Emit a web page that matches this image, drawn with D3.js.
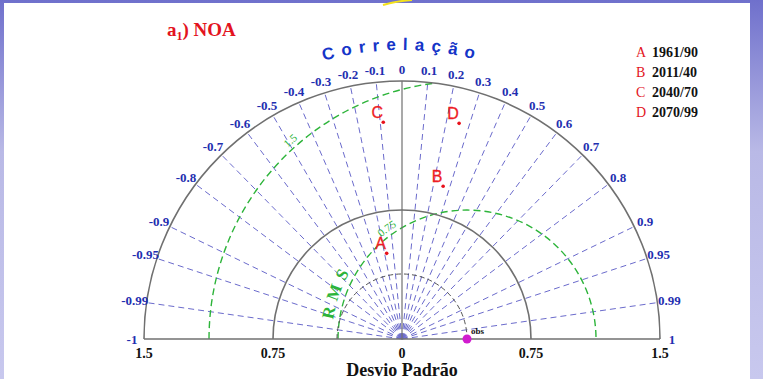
<!DOCTYPE html>
<html><head><meta charset="utf-8">
<script src="https://cdn.jsdelivr.net/npm/d3@7"></script>
<style>
html,body{margin:0;padding:0;background:#fff;}
svg{display:block;}
</style></head>
<body>
<svg id="chart" width="763" height="379"></svg>
<script>
// ---- data ----
const corrTicks = [-1, -0.99, -0.95, -0.9, -0.8, -0.7, -0.6, -0.5, -0.4, -0.3, -0.2, -0.1, 0, 0.1, 0.2, 0.3, 0.4, 0.5, 0.6, 0.7, 0.8, 0.9, 0.95, 0.99, 1];
const corrTickLabels = ["-1", "-0.99", "-0.95", "-0.9", "-0.8", "-0.7", "-0.6", "-0.5", "-0.4", "-0.3", "-0.2", "-0.1", "0", "0.1", "0.2", "0.3", "0.4", "0.5", "0.6", "0.7", "0.8", "0.9", "0.95", "0.99", "1"];
const stdTickPos = [-1.5, -0.75, 0, 0.75, 1.5];
const stdTickLabels = ["1.5", "0.75", "0", "0.75", "1.5"];
const stdArcs = [0.75, 1.5];
const rmsLevels = [0.75, 1.5];
const rmsLabels = ["0.75", "1.5"];
const obsStd = 0.378;
const modelLetters = ["A", "B", "C", "D"];
const modelPeriods = ["1961/90", "2011/40", "2040/70", "2070/99"];
const modelStd = [0.506, 0.92, 1.265, 1.297];
const modelCorr = [-0.176, 0.26, -0.086, 0.256];

// ---- layout ----
const W = 763, H = 379;
const cx = 402, cy = 339;
const maxStd = 1.5;
const r = d3.scaleLinear().domain([0, maxStd]).range([0, 258]);
const svg = d3.select("#chart");

// background frame
const defs = svg.append("defs");
const grad = defs.append("linearGradient").attr("id","bg").attr("x1",0).attr("y1",0).attr("x2",0).attr("y2",1);
grad.append("stop").attr("offset","0%").attr("stop-color","#6f70cc");
grad.append("stop").attr("offset","40%").attr("stop-color","#b9b9e6");
grad.append("stop").attr("offset","100%").attr("stop-color","#c8c8ee");
svg.append("rect").attr("width",W).attr("height",H).attr("fill","url(#bg)");
svg.append("rect").attr("x",4).attr("y",3).attr("width",746).attr("height",H-3).attr("fill","#fff");
svg.append("path").attr("d","M383,5 Q396,1 412,0").attr("fill","none").attr("stroke","#f4e21a").attr("stroke-width",2);

const polar = (s, c) => {
  const a = Math.acos(c);
  return [cx + r(s) * Math.cos(a), cy - r(s) * Math.sin(a)];
};

const g = svg.append("g");

// clip region: outer semicircle
defs.append("clipPath").attr("id","semi").append("path")
  .attr("d", `M${cx - r(maxStd)},${cy} A${r(maxStd)},${r(maxStd)} 0 0 1 ${cx + r(maxStd)},${cy} Z`);

// correlation dashed spokes
const spokeTicks = corrTicks.filter(c => Math.abs(c) < 1 && c !== 0);
g.selectAll("line.spoke").data(spokeTicks).enter().append("line")
  .attr("x1", cx).attr("y1", cy)
  .attr("x2", d => polar(maxStd, d)[0]).attr("y2", d => polar(maxStd, d)[1])
  .attr("stroke", "#6b6bcc").attr("stroke-width", 1).attr("stroke-dasharray", "6,4");

// RMS arcs (green) centered on obs
const obsX = cx + r(obsStd);
const rmsG = g.append("g").attr("clip-path","url(#semi)");
rmsLevels.forEach(v => {
  rmsG.append("path")
    .attr("d", `M${obsX - r(v)},${cy} A${r(v)},${r(v)} 0 0 1 ${obsX + r(v)},${cy}`)
    .attr("fill","none").attr("stroke","#2db43a").attr("stroke-width",1.4).attr("stroke-dasharray","7,4");
});

// obs std dashed arc
g.append("path")
  .attr("d", `M${cx - r(obsStd)},${cy} A${r(obsStd)},${r(obsStd)} 0 0 1 ${cx + r(obsStd)},${cy}`)
  .attr("fill","none").attr("stroke","#555").attr("stroke-width",1).attr("stroke-dasharray","5,3");

// std solid arcs
stdArcs.forEach(v => {
  g.append("path")
    .attr("d", `M${cx - r(v)},${cy} A${r(v)},${r(v)} 0 0 1 ${cx + r(v)},${cy}`)
    .attr("fill","none").attr("stroke","#707070").attr("stroke-width",1.6);
});
// baseline and vertical
g.append("line").attr("x1", cx - r(maxStd)).attr("x2", cx + r(maxStd)).attr("y1", cy).attr("y2", cy)
  .attr("stroke","#707070").attr("stroke-width",1.6);
g.append("line").attr("x1", cx).attr("x2", cx).attr("y1", cy).attr("y2", cy - r(maxStd))
  .attr("stroke","#707070").attr("stroke-width",1.2);

// correlation labels
const labR = 270;
g.selectAll("text.clab").data(corrTicks).enter().append("text")
  .attr("x", d => cx + labR * d).attr("y", d => cy - labR * Math.sin(Math.acos(d)))
  .attr("text-anchor","middle").attr("dominant-baseline","central")
  .attr("font-family","'Liberation Serif','Times New Roman',serif").attr("font-weight","bold")
  .attr("font-size",13).attr("fill","#1f2fb0")
  .text((d, i) => corrTickLabels[i]);

// "Correlação" curved title
const tR = 289;
defs.append("path").attr("id","corrArc")
  .attr("d", `M${cx - tR},${cy} A${tR},${tR} 0 0 1 ${cx + tR},${cy}`);
g.append("text").attr("font-family","'Liberation Sans',Arial,sans-serif").attr("font-weight","bold")
  .attr("font-size",17).attr("letter-spacing",7).attr("fill","#1535c8")
  .append("textPath").attr("href","#corrArc").attr("startOffset","50%").attr("text-anchor","middle")
  .text("Correlação");

// std axis labels
const stdX = d3.scaleLinear().domain([-maxStd, maxStd]).range([cx - r(maxStd), cx + r(maxStd)]);
g.selectAll("text.slab").data(stdTickPos).enter().append("text")
  .attr("x", d => stdX(d)).attr("y", 358)
  .attr("text-anchor","middle")
  .attr("font-family","'Liberation Serif','Times New Roman',serif").attr("font-weight","bold")
  .attr("font-size",14).attr("fill","#111")
  .text((d, i) => stdTickLabels[i]);
g.append("text").attr("x", cx).attr("y", 376).attr("text-anchor","middle")
  .attr("font-family","'Liberation Serif','Times New Roman',serif").attr("font-weight","bold")
  .attr("font-size",18).attr("fill","#111").text("Desvio Padrão");

// RMS labels along arcs
rmsLevels.forEach((v, i) => {
  const rr = r(v) + 4;
  const id = "rmsArc" + i;
  defs.append("path").attr("id", id)
    .attr("d", `M${obsX - rr},${cy} A${rr},${rr} 0 0 1 ${obsX + rr},${cy}`);
  const angFromLeft = (180 - (v === 0.75 ? 126 : 131.7)) * Math.PI / 180;
  g.append("text").attr("font-family","'Liberation Serif','Times New Roman',serif")
    .attr("font-size",11).attr("fill","#2db43a")
    .append("textPath").attr("href","#" + id).attr("startOffset", rr * angFromLeft)
    .attr("text-anchor","middle").text(rmsLabels[i]);
});
{
  const rr = 135;
  defs.append("path").attr("id","rmsTitle")
    .attr("d", `M${obsX - rr},${cy} A${rr},${rr} 0 0 1 ${obsX + rr},${cy}`);
  g.append("text").attr("font-family","'Liberation Serif','Times New Roman',serif").attr("font-weight","bold")
    .attr("font-size",17).attr("fill","#2db43a").attr("letter-spacing",6)
    .append("textPath").attr("href","#rmsTitle").attr("startOffset", rr * (20 * Math.PI / 180))
    .attr("text-anchor","middle").text("RMS");
}

// obs point
g.append("circle").attr("cx", obsX).attr("cy", cy).attr("r", 4.5).attr("fill","#d11ccf");
g.append("text").attr("x", obsX + 4).attr("y", cy - 5)
  .attr("font-family","'Liberation Serif','Times New Roman',serif").attr("font-weight","bold")
  .attr("font-size",9).attr("fill","#111").text("obs");

// model points
const pts = modelLetters.map((l, i) => ({l, s: modelStd[i], c: modelCorr[i]}));
const pg = g.selectAll("g.pt").data(pts).enter().append("g")
  .attr("transform", d => `translate(${polar(d.s, d.c)[0]},${polar(d.s, d.c)[1]})`);
pg.append("circle").attr("r", 1.8).attr("fill","#e8111b");
pg.append("text").attr("x", -6).attr("y", -4).attr("text-anchor","middle")
  .attr("font-family","'Liberation Sans',Arial,sans-serif")
  .attr("font-size",16).attr("fill","#ee1c24").attr("stroke","#ee1c24").attr("stroke-width",0.3)
  .text(d => d.l);

// title
const title = svg.append("text").attr("x", 167).attr("y", 36)
  .attr("font-family","'Liberation Serif','Times New Roman',serif").attr("font-weight","bold")
  .attr("font-size",19).attr("fill","#e3141e");
title.append("tspan").text("a");
title.append("tspan").attr("font-size",12).attr("dy",4).text("1");
title.append("tspan").attr("dy",-4).text(") NOA");

// legend
const lg = svg.append("g");
modelLetters.forEach((l, i) => {
  const y = 57 + i * 20;
  lg.append("text").attr("x", 636).attr("y", y)
    .attr("font-family","'Liberation Serif','Times New Roman',serif")
    .attr("font-size",14).attr("fill","#e3141e").text(l);
  lg.append("text").attr("x", 652).attr("y", y)
    .attr("font-family","'Liberation Serif','Times New Roman',serif").attr("font-weight","bold")
    .attr("font-size",14).attr("fill","#111").text(modelPeriods[i]);
});
</script>
</body></html>
